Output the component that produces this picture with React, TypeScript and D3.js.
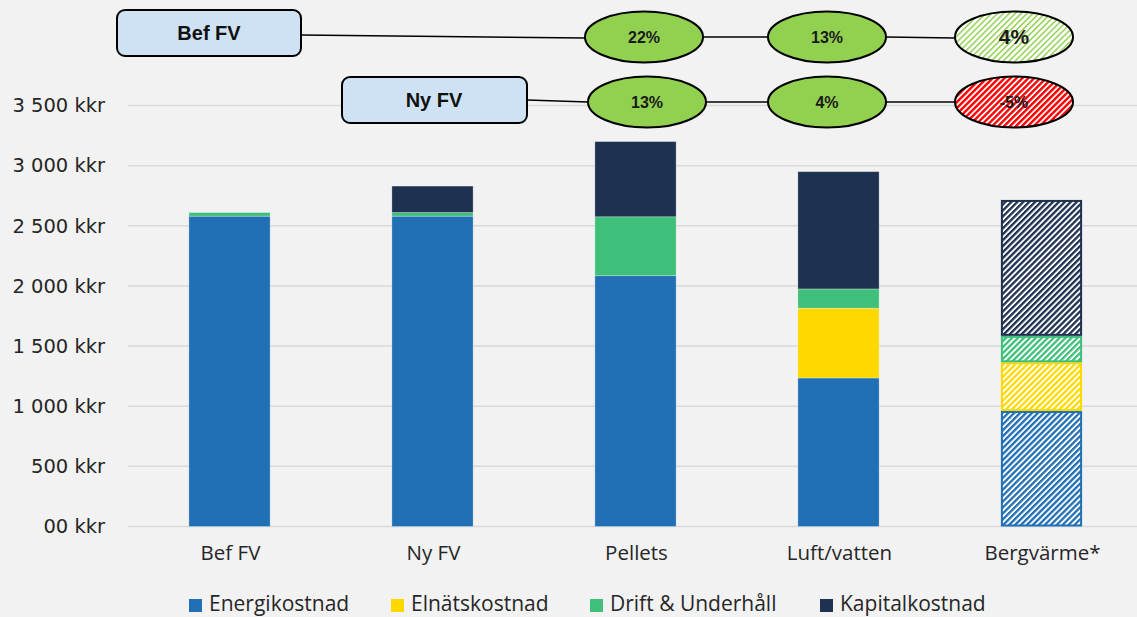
import React from 'react';
import * as d3 from 'd3';

// chart data
const categories = ['Bef FV', 'Ny FV', 'Pellets', 'Luft/vatten', 'Bergvärme*'];
const seriesNames = ['Energikostnad', 'Elnätskostnad', 'Drift & Underhåll', 'Kapitalkostnad'];
const energikostnad = [2580, 2580, 2085, 1235, 960];
const elnatskostnad = [0, 0, 0, 580, 405];
const driftUnderhall = [30, 30, 490, 160, 220];
const kapitalkostnad = [0, 220, 625, 975, 1130];
const yTicks = [0, 500, 1000, 1500, 2000, 2500, 3000, 3500];
const yTickLabels = ['00 kkr', '500 kkr', '1 000 kkr', '1 500 kkr', '2 000 kkr', '2 500 kkr', '3 000 kkr', '3 500 kkr'];
const befLabels = ['22%', '13%', '4%'];
const nyLabels = ['13%', '4%', '-5%'];

const colors = ['#2170b6', '#ffd800', '#3ec07a', '#1f3150'];
const hatchedCategory = 'Bergvärme*';

const W = 1137;
const H = 617;

const App = () => {
  const x = d3.scaleBand<string>().domain(categories).range([128, 1143]).paddingInner(0.6).paddingOuter(0.3);
  const y = d3.scaleLinear().domain([0, 3500]).range([526.5, 105.5]);

  const rows = categories.map((c, i) => ({
    cat: c,
    Energikostnad: energikostnad[i],
    Elnätskostnad: elnatskostnad[i],
    'Drift & Underhåll': driftUnderhall[i],
    Kapitalkostnad: kapitalkostnad[i],
  }));
  const stack = d3.stack<any>().keys(seriesNames)(rows);

  const axisFont = 'DejaVu Sans, sans-serif';
  const labelFont = 'Open Sans, sans-serif';
  const boldFont = 'Liberation Sans, Arial, sans-serif';

  // annotation layout
  const ellX = [644, 827, 1014];
  const rowY = [37, 102];
  const legendX = [189, 391, 590, 820];

  return (
    <svg width={W} height={H} style={{ position: 'absolute', left: 0, top: 0 }}>
      <defs>
        {colors.map((c, i) => (
          <pattern key={i} id={`hatch${i}`} width={4.2} height={4.2} patternUnits="userSpaceOnUse" patternTransform="rotate(45)">
            <rect width={4.2} height={4.2} fill="#ffffff" />
            <rect width={2.3} height={4.2} fill={c} />
          </pattern>
        ))}
        <pattern id="hatchGreen" width={4.2} height={4.2} patternUnits="userSpaceOnUse" patternTransform="rotate(45)">
          <rect width={4.2} height={4.2} fill="#ffffff" />
          <rect width={1.5} height={4.2} fill="#92d050" />
        </pattern>
        <pattern id="hatchRed" width={4.2} height={4.2} patternUnits="userSpaceOnUse" patternTransform="rotate(45)">
          <rect width={4.2} height={4.2} fill="#ffffff" />
          <rect width={2.4} height={4.2} fill="#ff0000" />
        </pattern>
      </defs>
      <rect width={W} height={H} fill="#f2f2f2" />

      {/* gridlines + y labels */}
      {yTicks.map((t, i) => (
        <g key={t}>
          <line x1={128} x2={W} y1={y(t)} y2={y(t)} stroke="#d9d9d9" strokeWidth={1.5} />
          <text x={105} y={y(t)} dy="0.35em" textAnchor="end" fontFamily={axisFont} fontSize={19.5} fill="#262626">
            {yTickLabels[i]}
          </text>
        </g>
      ))}

      {/* bars */}
      {stack.map((s, si) => (
        <g key={s.key}>
          {s.map((d: any) => {
            const cat = d.data.cat;
            const h = y(d[0]) - y(d[1]);
            if (h <= 0) return null;
            const hatched = cat === hatchedCategory;
            return hatched ? (
              <rect key={cat} x={x(cat)! + 1} y={y(d[1]) + 1} width={x.bandwidth() - 2} height={h - 2}
                fill={`url(#hatch${si})`} stroke={colors[si]} strokeWidth={2} />
            ) : (
              <rect key={cat} x={x(cat)} y={y(d[1])} width={x.bandwidth()} height={h}
                fill={colors[si]} stroke="#ffffff" strokeOpacity={0.35} strokeWidth={0.8} />
            );
          })}
        </g>
      ))}

      {/* category labels */}
      {categories.map((c) => (
        <text key={c} x={x(c)! + x.bandwidth() / 2 + 1} y={553} dy="0.35em" textAnchor="middle"
          fontFamily={labelFont} fontSize={20.5} fill="#262626">
          {c}
        </text>
      ))}

      {/* legend */}
      {seriesNames.map((n, i) => (
        <g key={n}>
          <rect x={legendX[i]} y={599} width={13} height={13} fill={colors[i]} />
          <text x={legendX[i] + 20} y={604} dy="0.35em" fontFamily={labelFont} fontSize={21} fill="#262626">{n}</text>
        </g>
      ))}

      {/* annotations */}
      <line x1={301} y1={35} x2={585} y2={38} stroke="#000" strokeWidth={1.5} />
      <line x1={703} y1={37} x2={768} y2={37} stroke="#000" strokeWidth={1.5} />
      <line x1={886} y1={37} x2={955} y2={38} stroke="#000" strokeWidth={1.5} />
      <line x1={527} y1={100} x2={588} y2={102} stroke="#000" strokeWidth={1.5} />
      <line x1={706} y1={102} x2={768} y2={102} stroke="#000" strokeWidth={1.5} />
      <line x1={886} y1={102} x2={955} y2={102} stroke="#000" strokeWidth={1.5} />

      <rect x={117} y={10} width={184} height={46} rx={8} fill="#cfe2f3" stroke="#000" strokeWidth={2} />
      <text x={209} y={33} dy="0.35em" textAnchor="middle" fontFamily={boldFont} fontWeight="bold" fontSize={20} fill="#111">Bef FV</text>
      <rect x={342} y={77} width={185} height={46} rx={8} fill="#cfe2f3" stroke="#000" strokeWidth={2} />
      <text x={434} y={100} dy="0.35em" textAnchor="middle" fontFamily={boldFont} fontWeight="bold" fontSize={20} fill="#111">Ny FV</text>

      {[befLabels, nyLabels].map((labels, r) => (
        <g key={r}>
          {labels.map((l, i) => {
            const last = i === 2;
            const fill = last ? (r === 0 ? 'url(#hatchGreen)' : 'url(#hatchRed)') : '#92d050';
            const cx = ellX[i] + (r === 1 && i === 0 ? 3 : 0);
            return (
              <g key={i}>
                <ellipse cx={cx} cy={rowY[r]} rx={59} ry={25.5} fill={fill} stroke="#000" strokeWidth={2} />
                <text x={cx} y={rowY[r]} dy="0.35em" textAnchor="middle"
                  fontFamily={boldFont} fontWeight="bold" fontSize={last && r === 0 ? 21 : 16} fill="#1a1a1a">
                  {l}
                </text>
              </g>
            );
          })}
        </g>
      ))}
    </svg>
  );
};

export default App;
